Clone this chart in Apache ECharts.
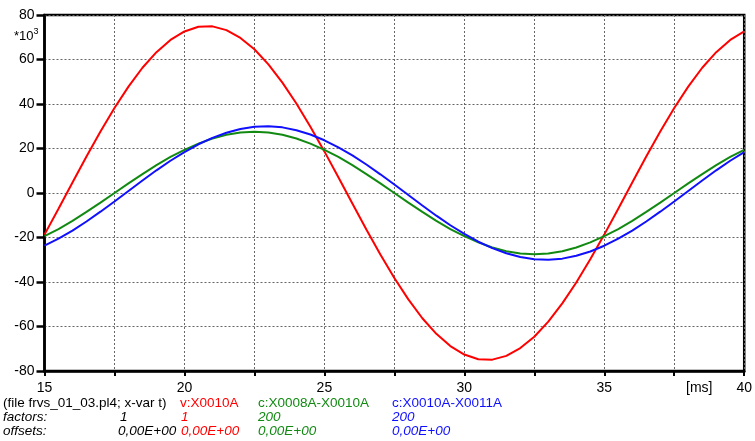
<!DOCTYPE html>
<html>
<head>
<meta charset="utf-8">
<script src="https://cdn.jsdelivr.net/npm/echarts@6/dist/echarts.min.js"></script>
<style>
  html, body { margin: 0; padding: 0; background: #fff; }
  #chart { width: 755px; height: 441px; }
</style>
</head>
<body>
<div id="chart"></div>
<script>
// time axis, ms
const times = [15, 15.5, 16, 16.5, 17, 17.5, 18, 18.5, 19, 19.5, 20, 20.5, 21, 21.5, 22, 22.5, 23, 23.5, 24, 24.5,
  25, 25.5, 26, 26.5, 27, 27.5, 28, 28.5, 29, 29.5, 30, 30.5, 31, 31.5, 32, 32.5, 33, 33.5, 34, 34.5,
  35, 35.5, 36, 36.5, 37, 37.5, 38, 38.5, 39, 39.5, 40]

// values in *10^3
const v_X0010A = [-18.7, -7.1, 4.7, 16.4, 27.6, 38.2, 47.8, 56.3, 63.3, 68.8, 72.6, 74.7, 74.9, 73.2, 69.7, 64.6, 57.8, 49.6, 40.2, 29.8,
  18.7, 7.1, -4.7, -16.4, -27.6, -38.2, -47.8, -56.3, -63.3, -68.8, -72.6, -74.7, -74.9, -73.2, -69.7, -64.6, -57.8, -49.6, -40.2, -29.8,
  -18.7, -7.1, 4.7, 16.4, 27.6, 38.2, 47.8, 56.3, 63.3, 68.8, 72.6]

const c_X0008A_X0010A = [-19.4, -16.2, -12.5, -8.5, -4.3, 0, 4.3, 8.5, 12.5, 16.2, 19.4, 22.2, 24.5, 26.2, 27.2, 27.5, 27.2, 26.2, 24.5, 22.2,
  19.4, 16.2, 12.5, 8.5, 4.3, 0, -4.3, -8.5, -12.5, -16.2, -19.4, -22.2, -24.5, -26.2, -27.2, -27.5, -27.2, -26.2, -24.5, -22.2,
  -19.4, -16.2, -12.5, -8.5, -4.3, 0, 4.3, 8.5, 12.5, 16.2, 19.4]

const c_X0010A_X0011A = [-23.7, -20.5, -16.9, -12.8, -8.4, -3.8, 0.9, 5.6, 10.2, 14.5, 18.4, 21.9, 24.8, 27.1, 28.8, 29.8, 30.0, 29.5, 28.2, 26.3,
  23.7, 20.5, 16.9, 12.8, 8.4, 3.8, -0.9, -5.6, -10.2, -14.5, -18.4, -21.9, -24.8, -27.1, -28.8, -29.8, -30.0, -29.5, -28.2, -26.3,
  -23.7, -20.5, -16.9, -12.8, -8.4, -3.8, 0.9, 5.6, 10.2, 14.5, 18.4]

const xLabels = [15, 20, 25, 30, 35, 40]
const yLabels = [-80, -60, -40, -20, 0, 20, 40, 60, 80]

const RED = '#ff0000'
const GREEN = '#128a12'
const BLUE = '#1010ff'
const FONT = 'Liberation Sans, Arial, sans-serif'

function pairs(ys) {
  return times.map((t, i) => [t, ys[i]])
}

const chart = echarts.init(document.getElementById('chart'), null, { renderer: 'canvas' })

const gridLine = { show: true, lineStyle: { color: '#666', type: [2, 2], width: 1 } }

// legend block under the plot
const legendRows = [
  [[3, '(file frvs_01_03.pl4; x-var t)', '#000', 'normal'], [180, 'v:X0010A', RED, 'normal'],
   [258, 'c:X0008A-X0010A', GREEN, 'normal'], [392, 'c:X0010A-X0011A', BLUE, 'normal']],
  [[3, 'factors:', '#000', 'italic'], [120, '1', '#000', 'italic'], [181, '1', RED, 'italic'],
   [258, '200', GREEN, 'italic'], [392, '200', BLUE, 'italic']],
  [[3, 'offsets:', '#000', 'italic'], [118, '0,00E+00', '#000', 'italic'], [181, '0,00E+00', RED, 'italic'],
   [258, '0,00E+00', GREEN, 'italic'], [392, '0,00E+00', BLUE, 'italic']]
]
const rowY = [404, 418, 432]

const graphics = []
legendRows.forEach((row, r) => {
  row.forEach(([x, text, color, style]) => {
    graphics.push({
      type: 'text', left: x, top: rowY[r] - 8,
      style: { text, fill: color, font: style + ' 13.5px ' + FONT }
    })
  })
})
graphics.push({
  type: 'text', left: 14, top: 27,
  style: {
    text: '{a|*10}{b|3}',
    rich: {
      a: { fill: '#000', font: '13px ' + FONT, padding: [3, 0, 0, 0] },
      b: { fill: '#000', font: '9px ' + FONT, verticalAlign: 'top' }
    }
  }
})
graphics.push({
  type: 'text', left: 686, top: 381,
  style: { text: '[ms]', fill: '#000', font: '14px ' + FONT }
})

const options = {
  animation: false,
  backgroundColor: '#fff',
  grid: {
    left: 44.5, right: 7, top: 15, bottom: 70,
    show: true, borderColor: '#000', borderWidth: 2.5
  },
  xAxis: {
    type: 'value', min: 15, max: 40, interval: 2.5,
    axisLine: { onZero: false, lineStyle: { color: '#000', width: 2.5 } },
    axisTick: { length: 5, lineStyle: { color: '#000', width: 2 } },
    axisLabel: {
      color: '#000', fontSize: 14, fontFamily: FONT, margin: 10,
      formatter: (v) => xLabels.includes(v) ? String(v) : ''
    },
    splitLine: gridLine
  },
  yAxis: {
    type: 'value', min: -80, max: 80, interval: 20,
    axisLine: { onZero: false, lineStyle: { color: '#000', width: 2.5 } },
    axisTick: { length: 8, lineStyle: { color: '#000', width: 2.5 } },
    axisLabel: {
      color: '#000', fontSize: 14, fontFamily: FONT, margin: 10,
      formatter: (v) => yLabels.includes(v) ? String(v) : ''
    },
    splitLine: gridLine
  },
  graphic: graphics,
  series: [
    { name: 'v:X0010A', type: 'line', data: pairs(v_X0010A), showSymbol: false, lineStyle: { color: RED, width: 2 } },
    { name: 'c:X0008A-X0010A', type: 'line', data: pairs(c_X0008A_X0010A), showSymbol: false, lineStyle: { color: GREEN, width: 2 } },
    { name: 'c:X0010A-X0011A', type: 'line', data: pairs(c_X0010A_X0011A), showSymbol: false, lineStyle: { color: BLUE, width: 2 } }
  ]
}

chart.setOption(options)
</script>
</body>
</html>
